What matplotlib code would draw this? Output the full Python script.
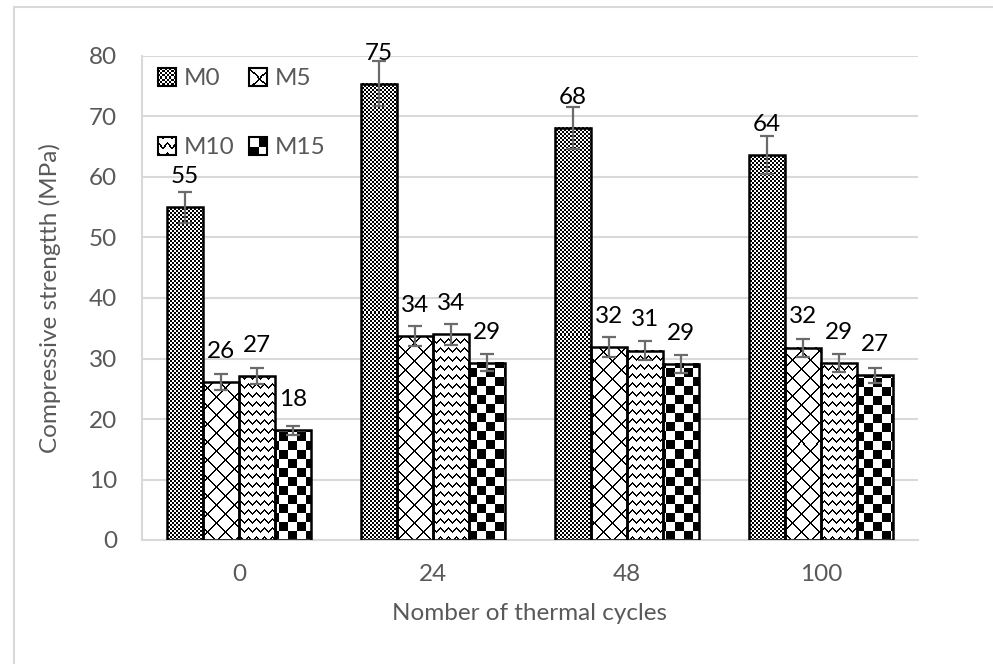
import numpy as np
import matplotlib
matplotlib.use("Agg")
import matplotlib.pyplot as plt
from matplotlib.patches import Patch, Rectangle
from matplotlib.legend_handler import HandlerBase
from matplotlib.image import BboxImage
from matplotlib.transforms import Bbox, TransformedBbox
from matplotlib.colors import Normalize

plt.rcParams['font.family'] = ['Lato', 'DejaVu Sans']

# data
cycles = ['0', '24', '48', '100']
series = ['M0', 'M5', 'M10', 'M15']
m0 = [55.0, 75.4, 68.1, 63.6]
m5 = [26.1, 33.7, 31.9, 31.8]
m10 = [27.1, 34.0, 31.3, 29.2]
m15 = [18.1, 29.3, 29.1, 27.2]
m0_err = [2.6, 3.7, 3.4, 3.1]
m5_err = [1.3, 1.7, 1.6, 1.5]
m10_err = [1.3, 1.7, 1.6, 1.5]
m15_err = [0.8, 1.4, 1.5, 1.3]

GREY = '#595959'
GRID = '#d9d9d9'
FS = 17.5


# pixel fill patterns (1 = black), r/c are absolute pixel rows/cols
def pat_m0(r, c):
    return (r // 2 + c // 2) % 2


def pat_m5(r, c):
    return (((r + c) % 18) < 2) | (((r - c) % 18) < 2)


def pat_m10(r, c):
    tri = np.abs(c % 8 - 4)
    return ((r + tri) % 9) < 2


def pat_m15(r, c):
    return (r // 9 + c // 9) % 2


patterns = [pat_m0, pat_m5, pat_m10, pat_m15]


class PatternHandler(HandlerBase):
    def __init__(self, pattern):
        super().__init__()
        self.pattern = pattern

    def create_artists(self, legend, orig_handle, xdescent, ydescent,
                       width, height, fontsize, trans):
        box = Bbox.from_bounds(-xdescent, -ydescent, width, height)
        img = BboxImage(TransformedBbox(box, trans), cmap='gray_r',
                        norm=Normalize(0, 1), interpolation='nearest')
        r, c = np.indices((17, 17))
        img.set_data(self.pattern(r, c).astype(float))
        edge = Rectangle((-xdescent, -ydescent), width, height,
                         facecolor='none', edgecolor='black', lw=1.5,
                         transform=trans)
        return [img, edge]


W, H = 993, 664
fig = plt.figure(figsize=(W / 100, H / 100), dpi=100)
fig.subplots_adjust(left=142 / W, right=918 / W, top=1 - 56 / H, bottom=1 - 540 / H)
ax = fig.add_subplot(111)

# outer chart border
fig.patches.append(Rectangle((14 / W, -0.1), 1.2, 1.1 - 7 / H, transform=fig.transFigure,
                             facecolor='none', edgecolor=GRID, lw=1.5))

ax.set_xlim(-0.5, len(cycles) - 0.5)
ax.set_ylim(0, 80)

x = np.arange(len(cycles))
width = 0.185
values = [m0, m5, m10, m15]
errors = [m0_err, m5_err, m10_err, m15_err]

for k, (vals, errs, pat) in enumerate(zip(values, errors, patterns)):
    pos = x + (k - 1.5) * width
    ax.bar(pos, vals, width, facecolor='none', edgecolor='black', linewidth=1.8, zorder=3,
           yerr=errs, error_kw=dict(ecolor='#6b6b6b', elinewidth=1.6, capsize=5,
                                    capthick=1.6, zorder=4))
    # pattern fill for each bar
    for xc, v in zip(pos, vals):
        x0, x1 = xc - width / 2, xc + width / 2
        px0, py0 = ax.transData.transform((x0, 0))
        px1, py1 = ax.transData.transform((x1, v))
        ncols = int(round(px1 - px0))
        nrows = int(round(py1 - py0))
        r = np.arange(nrows)[:, None] + int(round(H - py1))
        c = np.arange(ncols)[None, :] + int(round(px0))
        arr = pat(r, c).astype(float)
        ax.imshow(arr, cmap='gray_r', vmin=0, vmax=1, extent=(x0, x1, 0, v),
                  interpolation='nearest', aspect='auto', zorder=2)
    for xc, v in zip(pos, vals):
        ax.annotate(f"{v:.0f}", (xc, v), xytext=(0, 14.5), textcoords='offset points',
                    ha='center', va='bottom', fontsize=FS, color='black', zorder=5)

ax.set_xlim(-0.5, len(cycles) - 0.5)
ax.set_ylim(0, 80)
ax.set_yticks(range(0, 81, 10))
ax.set_xticks(x)
ax.set_xticklabels(cycles)
ax.tick_params(axis='both', length=0, labelsize=FS, labelcolor=GREY)
ax.tick_params(axis='y', pad=18)
ax.tick_params(axis='x', pad=17)

ax.yaxis.grid(True, color=GRID, lw=1.5)
ax.set_axisbelow(True)
for side in ['top', 'right']:
    ax.spines[side].set_visible(False)
ax.spines['left'].set_color(GRID)
ax.spines['bottom'].set_color(GRID)
ax.spines['left'].set_linewidth(1.5)
ax.spines['bottom'].set_linewidth(1.5)

ax.set_xlabel("Nomber of thermal cycles", fontsize=FS, color=GREY)
ax.set_ylabel("Compressive strengtth (MPa)", fontsize=FS, color=GREY)
ax.xaxis.set_label_coords(0.5, -0.152)
ax.xaxis.label.set_va('center')
ax.yaxis.set_label_coords(-0.1186, 0.5)
ax.yaxis.label.set_va('center')

# legend, 2x2, rows M0/M5 and M10/M15
handles = [Patch(label=s) for s in series]
hmap = {h: PatternHandler(p) for h, p in zip(handles, patterns)}
order = [0, 2, 1, 3]
leg = ax.legend([handles[i] for i in order], [series[i] for i in order], handler_map=hmap,
                ncol=2, loc='upper left', bbox_to_anchor=(0.0206, 0.975), borderaxespad=0,
                borderpad=0, frameon=False, fontsize=FS, handlelength=0.75, handleheight=0.75,
                handletextpad=0.3, columnspacing=0.6, labelspacing=1.95)
for t in leg.get_texts():
    t.set_color(GREY)

fig.savefig("out.png", dpi=100)
